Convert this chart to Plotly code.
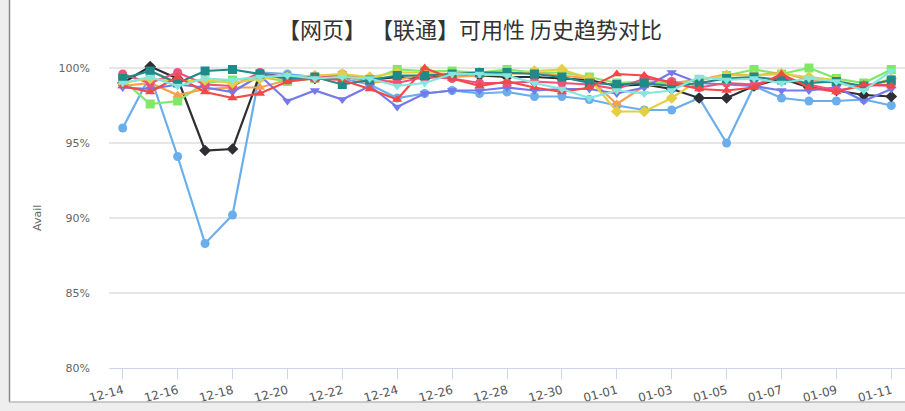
import plotly.graph_objects as go

categories = ["12-14", "12-15", "12-16", "12-17", "12-18", "12-19", "12-20", "12-21",
              "12-22", "12-23", "12-24", "12-25", "12-26", "12-27", "12-28", "12-29",
              "12-30", "12-31", "01-01", "01-02", "01-03", "01-04", "01-05", "01-06",
              "01-07", "01-08", "01-09", "01-10", "01-11"]

s0 = [96.0, 99.5, 94.1, 88.3, 90.2, 99.7, 99.6, 99.4, 99.3, 98.9, 98.0, 98.3, 98.5, 98.3, 98.4,
      98.1, 98.1, 97.9, 97.5, 97.2, 97.2, 98.0, 95.0, 98.8, 98.0, 97.8, 97.8, 97.9, 97.5]
s1 = [99.0, 100.1, 99.3, 94.5, 94.6, 99.6, 99.4, 99.3, 99.4, 99.2, 99.4, 99.3, 99.6, 99.5, 99.4,
      99.4, 99.3, 99.2, 98.8, 98.9, 98.6, 98.0, 98.0, 98.8, 99.3, 98.7, 98.5, 98.2, 98.1]
s2 = [99.2, 97.6, 97.8, 99.0, 99.2, 99.4, 99.1, 99.3, 99.5, 99.2, 99.9, 99.8, 99.8, 99.7, 99.9,
      99.7, 99.7, 99.4, 99.0, 99.1, 99.0, 99.2, 99.5, 99.9, 99.6, 100.0, 99.3, 99.0, 99.9]
s3 = [98.8, 99.0, 98.2, 98.6, 98.7, 98.7, 99.2, 99.3, 99.5, 99.0, 99.2, 99.6, 99.4, 99.5, 99.6,
      99.7, 99.5, 99.3, 97.6, 98.8, 99.0, 99.2, 99.6, 99.5, 99.7, 99.2, 99.0, 98.7, 99.2]
s4 = [98.7, 98.6, 98.9, 98.7, 98.4, 99.5, 97.8, 98.5, 97.9, 98.8, 97.4, 98.3, 98.5, 98.5, 98.7,
      98.5, 98.6, 98.6, 98.3, 98.7, 99.7, 99.0, 98.9, 98.8, 98.5, 98.5, 98.7, 97.8, 98.6]
s5 = [99.6, 99.0, 99.7, 98.9, 98.8, 99.7, 99.2, 99.3, 99.6, 99.3, 99.0, 99.4, 99.3, 99.0, 99.0,
      99.1, 99.0, 98.9, 98.6, 99.3, 99.1, 98.7, 99.0, 98.9, 99.4, 98.9, 98.5, 98.8, 98.9]
s6 = [99.0, 99.3, 99.1, 99.2, 99.0, 99.3, 99.4, 99.5, 99.6, 99.4, 99.7, 99.7, 99.6, 99.7, 99.6,
      99.8, 99.9, 99.3, 97.1, 97.1, 98.0, 99.2, 99.5, 99.5, 99.6, 99.4, 99.2, 98.7, 99.3]
s7 = [99.3, 99.8, 99.0, 99.8, 99.9, 99.6, 99.3, 99.4, 98.9, 99.2, 99.5, 99.5, 99.6, 99.7, 99.7,
      99.6, 99.4, 99.0, 98.9, 99.0, 98.8, 99.0, 99.3, 99.4, 99.2, 99.0, 99.1, 98.8, 99.2]
s8 = [98.8, 98.4, 99.4, 98.4, 98.0, 98.3, 99.1, 99.3, 99.2, 98.6, 97.9, 100.0, 99.3, 98.8, 99.1,
      98.7, 98.4, 98.7, 99.6, 99.5, 99.0, 98.6, 98.5, 98.7, 99.6, 98.7, 98.4, 98.9, 98.8]
s9 = [99.0, 99.4, 98.8, 99.3, 99.2, 99.4, 99.5, 99.3, 99.4, 99.3, 98.8, 99.0, 99.6, 99.6, 99.5,
      99.0, 98.6, 98.0, 98.5, 98.3, 98.5, 99.4, 99.2, 99.3, 99.0, 99.3, 99.1, 98.5, 99.8]

series_names = ["节点1", "节点2", "节点3", "节点4", "节点5",
                "节点6", "节点7", "节点8", "节点9", "节点10"]
series_values = [s0, s1, s2, s3, s4, s5, s6, s7, s8, s9]
tick_labels = categories[::2]
y_ticks = [80, 85, 90, 95, 100]

colors = ["#6aaeec", "#2e2e33", "#7fe866", "#f7a050", "#7479ec",
          "#f0507a", "#e2cf44", "#1f8a88", "#f24848", "#84e6de"]
symbols = ["circle", "diamond", "square", "triangle-up", "triangle-down"]

fig = go.Figure()
for i, (name, vals) in enumerate(zip(series_names, series_values)):
    fig.add_trace(go.Scatter(
        x=categories, y=vals, name=name, mode="lines+markers",
        line=dict(color=colors[i], width=2.2),
        marker=dict(symbol=symbols[i % 5], size=9, color=colors[i]),
        cliponaxis=False,
    ))

W, H = 905, 411
ml, mr, mt, mb = 109, 0, 65, 43
pw = W - ml - mr
ph = H - mt - mb

def px_x(p):
    return (p - ml) / pw

def px_y(p):
    return (H - mb - p) / ph

fig.update_layout(
    width=W, height=H,
    margin=dict(l=ml, r=mr, t=mt, b=mb, pad=0),
    paper_bgcolor="#ffffff",
    plot_bgcolor="#ffffff",
    showlegend=False,
    font=dict(family="DejaVu Sans", color="#666666"),
    title=dict(
        text="【网页】 【联通】可用性 历史趋势对比",
        font=dict(family="Noto Sans CJK SC", size=22, color="#333333"),
        xref="container", yref="container",
        x=470 / W, y=1 - 30 / H, xanchor="center", yanchor="middle",
    ),
    xaxis=dict(
        type="category",
        range=[-0.5, len(categories) - 0.5],
        tickmode="array", tickvals=tick_labels, ticktext=tick_labels,
        tickangle=-15,
        ticks="outside", ticklen=10, tickcolor="#ccd6eb", tickwidth=1,
        showline=True, linecolor="#ccd6eb", linewidth=1,
        showgrid=False, zeroline=False,
        tickfont=dict(family="DejaVu Sans", size=12, color="#555555"),
    ),
    yaxis=dict(
        range=[80, 100.2],
        tickmode="array", tickvals=y_ticks,
        ticktext=[f"{v}%" for v in y_ticks],
        showgrid=True, gridcolor="#e6e6e6", gridwidth=1.5,
        zeroline=False, showline=False,
        ticklabelstandoff=18,
        tickfont=dict(family="DejaVu Sans", size=11, color="#666666"),
    ),
    annotations=[dict(
        text="Avail", textangle=-90, showarrow=False,
        xref="paper", yref="paper", x=px_x(37), y=px_y(218),
        xanchor="center", yanchor="middle",
        font=dict(family="DejaVu Sans", size=11, color="#666666"),
    )],
    shapes=[
        dict(type="rect", xref="paper", yref="paper", layer="above",
             x0=px_x(0), x1=px_x(9), y0=px_y(411), y1=px_y(0),
             fillcolor="#eeeeee", line=dict(width=0)),
        dict(type="rect", xref="paper", yref="paper", layer="above",
             x0=px_x(0), x1=px_x(905), y0=px_y(411), y1=px_y(402),
             fillcolor="#eeeeee", line=dict(width=0)),
        dict(type="line", xref="paper", yref="paper", layer="above",
             x0=px_x(9.5), x1=px_x(9.5), y0=px_y(402), y1=px_y(0),
             line=dict(color="#8a8a8a", width=1.5)),
        dict(type="line", xref="paper", yref="paper", layer="above",
             x0=px_x(9), x1=px_x(905), y0=px_y(402), y1=px_y(402),
             line=dict(color="#bbbbbb", width=1.5)),
    ],
)

fig.write_html("out.html")
